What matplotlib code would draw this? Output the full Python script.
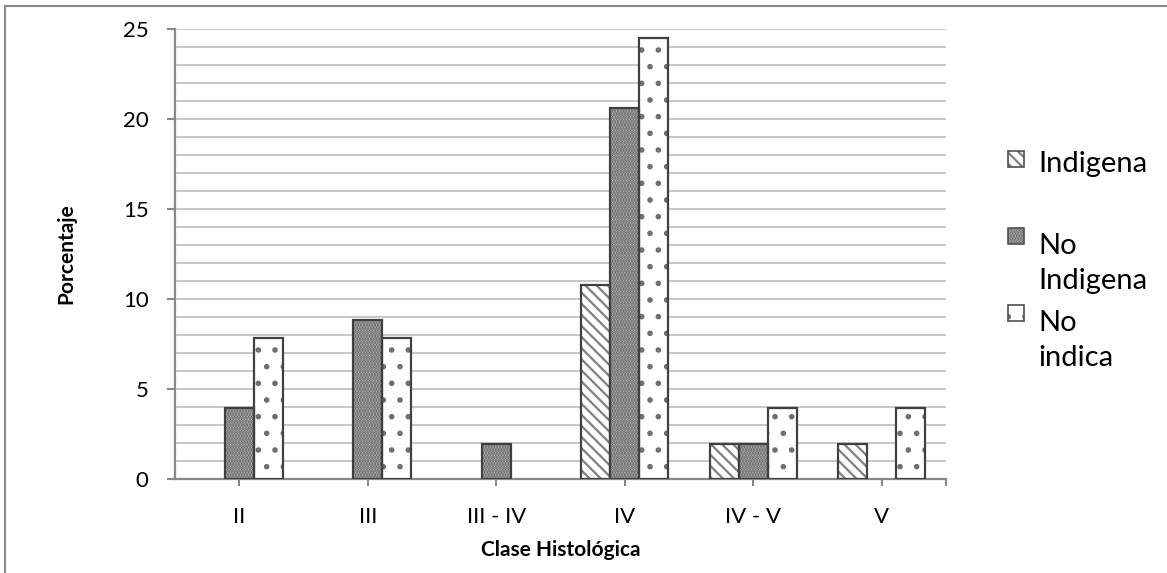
import matplotlib

matplotlib.use("Agg")
import matplotlib.pyplot as plt
import numpy as np
from matplotlib.patches import Rectangle

categories = ["II", "III", "III - IV", "IV", "IV - V", "V"]
indigena = [0, 0, 0, 10.78, 1.96, 1.96]
no_indigena = [3.92, 8.82, 1.96, 20.59, 1.96, 0]
no_indica = [7.84, 7.84, 0, 24.51, 3.92, 3.92]
series_labels = ["Indigena", "No\nIndigena", "No\nindica"]

plt.rcParams["font.family"] = ["Lato", "DejaVu Sans"]
plt.rcParams["hatch.linewidth"] = 1.6

W, H = 1167.0, 573.0
fig = plt.figure(figsize=(W / 100, H / 100), dpi=100)
ax = fig.add_axes([175 / W, 1 - 479 / H, 771 / W, 450 / H])

x = np.arange(len(categories))
w = 0.2257
fills = [
    dict(facecolor="white", hatch="\\\\\\", edgecolor="#808080"),
    dict(facecolor="#c4c4c4", hatch="......", edgecolor="#5a5a5a"),
    dict(facecolor="white", hatch=".", edgecolor="#707070"),
]
for i, (vals, st) in enumerate(zip([indigena, no_indigena, no_indica], fills)):
    pos = x + (i - 1) * w
    # hatch layer, then a dark outline on top
    ax.bar(pos, vals, width=w, linewidth=0, zorder=3, **st)
    ax.bar(pos, vals, width=w, fill=False, edgecolor="#404040",
           linewidth=[1.6 if v > 0 else 0 for v in vals], zorder=4)

ax.set_xlim(-0.5, len(categories) - 0.5)
ax.set_ylim(0, 25)
ax.set_yticks(range(0, 26, 5))
ax.set_yticks(range(0, 26), minor=True)
ax.grid(axis="y", which="both", color="#bdbdbd", linewidth=1.2, zorder=0)
ax.set_axisbelow(True)

ax.set_xticks(x)
ax.set_xticklabels(categories)
ax.set_xticks([len(categories) - 0.5], minor=True)
ax.tick_params(axis="x", which="both", length=5, color="#888888", width=1.5,
               pad=15, labelsize=16)
ax.tick_params(axis="y", which="major", length=6, color="#888888", width=1.5,
               labelsize=16, pad=13)
ax.tick_params(axis="y", which="minor", length=0)

for side in ("top", "right"):
    ax.spines[side].set_visible(False)
for side in ("left", "bottom"):
    ax.spines[side].set_color("#888888")
    ax.spines[side].set_linewidth(1.6)

ax.set_ylabel("Porcentaje", fontsize=15, fontweight="bold")
ax.yaxis.set_label_coords((76 - 175) / 771, 0.5)
ax.set_xlabel("Clase Histológica", fontsize=15, fontweight="bold", va="top")
ax.xaxis.set_label_coords(0.5, (479 - 540) / 450)

# legend drawn by hand so that each marker sits on the first line of its label
baselines = [172, 249, 326]
pitch = 40
for st, base, lab in zip(fills, baselines, series_labels):
    fig.patches.append(Rectangle((1008 / W, 1 - (base - 5) / H), 16 / W, 16 / H,
                                 transform=fig.transFigure, linewidth=0, **st))
    fig.patches.append(Rectangle((1008 / W, 1 - (base - 5) / H), 16 / W, 16 / H,
                                 transform=fig.transFigure, fill=False,
                                 edgecolor="#505050", linewidth=1.2))
    last = base + pitch * lab.count("\n")
    fig.text(1038 / W, 1 - last / H, lab, fontsize=21, va="baseline",
             ha="left", linespacing=1.45)

fig.patches.append(Rectangle((5 / W, -0.05), 1.2, 1 - 6 / H + 0.05,
                             transform=fig.transFigure, fill=False,
                             edgecolor="#888888", linewidth=1.5))

fig.savefig("out.png", dpi=100)
